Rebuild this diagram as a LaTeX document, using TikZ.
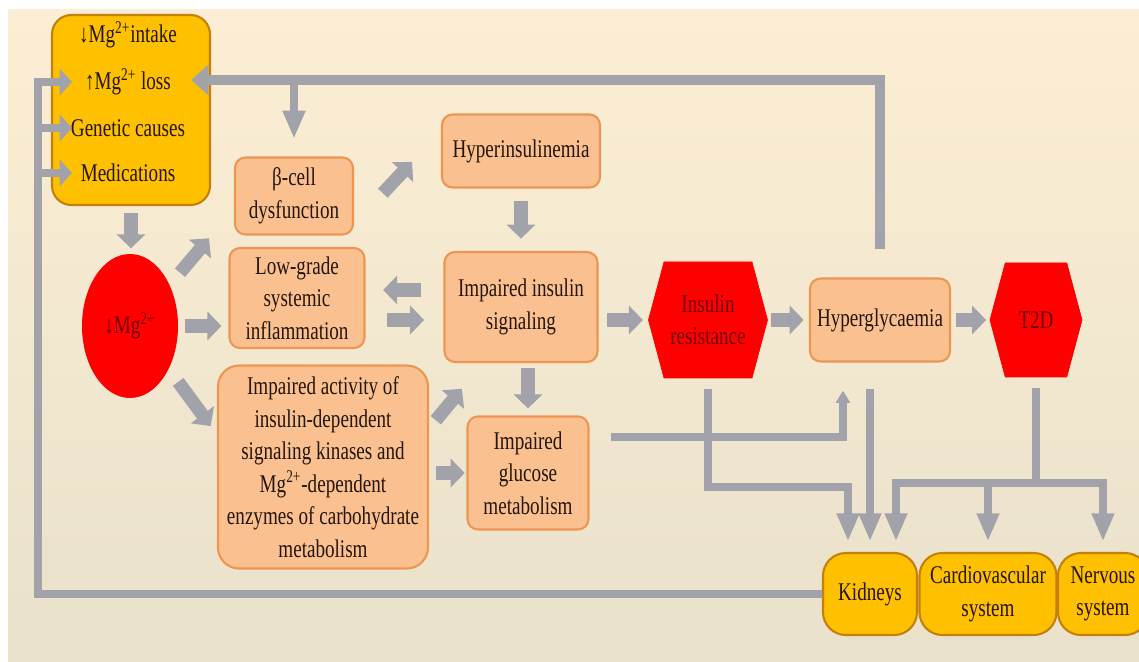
\documentclass[tikz,border=0pt]{standalone}
\usepackage{fontspec}
\setmainfont{Liberation Serif}[FakeStretch=0.75]
\usepackage{tikz}
\usetikzlibrary{shapes.geometric, shapes.symbols, arrows.meta, positioning, calc}
\definecolor{peachfill}{RGB}{251,192,144}
\definecolor{peachedge}{RGB}{236,150,82}
\definecolor{goldfill}{RGB}{255,192,0}
\definecolor{goldedge}{RGB}{196,128,10}
\definecolor{hexred}{RGB}{255,0,0}
\definecolor{hexink}{RGB}{112,0,0}
\definecolor{inkbrown}{RGB}{35,22,12}
\definecolor{lnkgray}{RGB}{162,162,170}
\definecolor{bgtop}{RGB}{252,238,212}
\definecolor{bgbottom}{RGB}{233,225,203}
\newcommand{\boxfont}{\fontsize{14.5}{18.5}\selectfont}
\tikzset{
  peachbox/.style={rectangle, draw=peachedge, fill=peachfill, align=center,
    rounded corners=6pt, line width=1.2pt, text=inkbrown, font=\boxfont, inner sep=2pt},
  goldbox/.style={rectangle, draw=goldedge, fill=goldfill, align=center,
    rounded corners=11pt, line width=1.2pt, text=inkbrown, font=\boxfont},
  organ/.style={goldbox, rounded corners=13pt, minimum height=1.64cm, inner sep=1pt},
  cause/.style={text=inkbrown, font=\boxfont, inner sep=1pt},
  hexnode/.style={signal, signal to=east and west, signal pointer angle=150,
    fill=hexred, draw=hexred, align=center, text=hexink, font=\boxfont},
  blockarrow/.style={-{Triangle[width=16pt,length=8pt]}, line width=7.5pt, color=lnkgray},
  link/.style={line width=4.5pt, color=lnkgray},
  linkarrow/.style={link, -{Triangle[width=12pt,length=16pt]}},
  smallarrow/.style={link, -{Triangle[width=8pt,length=7pt]}},
  sidearrow/.style={line width=4pt, color=lnkgray, -{Triangle[width=15pt,length=7pt]}},
  toparrow/.style={line width=5.5pt, color=lnkgray, -{Triangle[width=17pt,length=10pt]}}
}
\begin{document}
\begin{tikzpicture}
  % Canvas
  \useasboundingbox (0,0) rectangle (22.78,13.22);
  \fill[white] (0,0) rectangle (22.78,13.22);
  \shade[top color=bgtop, bottom color=bgbottom] (0.16,0) rectangle (22.78,13.02);

  % Causes of the deficiency
  \node[goldbox, minimum width=3.16cm, minimum height=3.8cm] (causes) at (2.62, 11.02) {};
  \node[cause] (intake) at (2.56, 12.52) {↓Mg\textsuperscript{2+}intake};
  \node[cause] (loss) at (2.56, 11.58) {↑Mg\textsuperscript{2+} loss};
  \node[cause] (genetic) at (2.56, 10.66) {Genetic causes};
  \node[cause] (meds) at (2.56, 9.76) {Medications};

  % Low magnesium and its effects
  \node[ellipse, fill=hexred, minimum width=1.92cm, minimum height=2.88cm, text=hexink, font=\boxfont] (mg) at (2.6, 6.7) {↓Mg\textsuperscript{2+}};
  \node[peachbox, minimum width=2.36cm, minimum height=1.54cm] (beta) at (5.88, 9.3) {β-cell\\dysfunction};
  \node[peachbox, minimum width=2.7cm, minimum height=2.0cm] (inflam) at (5.94, 7.26) {Low-grade\\systemic\\inflammation};
  \node[peachbox, minimum width=4.2cm, minimum height=4.06cm, rounded corners=12pt] (activity) at (6.46, 3.88) {Impaired activity of\\insulin-dependent\\signaling kinases and\\Mg\textsuperscript{2+}-dependent\\enzymes of carbohydrate\\metabolism};
  \node[peachbox, minimum width=3.16cm, minimum height=1.46cm] (hyperins) at (10.42, 10.2) {Hyperinsulinemia};
  \node[peachbox, minimum width=3.06cm, minimum height=2.2cm] (insig) at (10.42, 7.08) {Impaired insulin\\signaling};
  \node[peachbox, minimum width=2.42cm, minimum height=2.26cm] (glucose) at (10.56, 3.76) {Impaired\\glucose\\metabolism};
  \node[hexnode, minimum width=2.38cm, minimum height=2.32cm] (insres) at (14.16, 6.82) {Insulin\\resistance};
  \node[peachbox, minimum width=2.8cm, minimum height=1.66cm] (hyperg) at (17.6, 6.82) {Hyperglycaemia};
  \node[hexnode, minimum width=1.84cm, minimum height=2.28cm] (tdd) at (20.72, 6.82) {T2D};

  % Target organs
  \node[organ, minimum width=1.88cm] (kidneys) at (17.4, 1.34) {Kidneys};
  \node[organ, minimum width=2.74cm] (cardio) at (19.76, 1.34) {Cardiovascular\\system};
  \node[organ, minimum width=1.8cm] (nervous) at (22.06, 1.34) {Nervous\\system};

  % Bends of the long lines
  \coordinate (joinIR) at (16.96, 3.48);
  \coordinate (joinT2D) at (20.72, 3.56);
  \coordinate (topBend) at (17.6, 11.62);
  \coordinate (backTop) at (0.76, 11.58);
  \coordinate (causesIn) at (1.44, 11.58);

  % Short block arrows
  \draw[blockarrow, shorten <=4pt, shorten >=3pt] (causes.south) -- (causes.south |- mg.north);
  \draw[blockarrow, shorten <=9pt, shorten >=22pt] (mg.46) -- (beta.192);
  \draw[blockarrow, shorten <=4pt, shorten >=4pt] (mg.east) -- (mg.east -| inflam.west);
  \draw[blockarrow, shorten <=9pt, shorten >=6pt] (mg.312) -- (activity.163);
  \draw[blockarrow, shorten <=24pt, shorten >=24pt] (beta.335) -- (hyperins.166);
  \draw[blockarrow, shorten <=7pt, shorten >=7pt] (hyperins.south) -- (insig.north);
  \draw[blockarrow, shorten <=13pt, shorten >=10pt] ([yshift=0.34cm]insig.west) -- ([yshift=0.34cm]insig.west -| inflam.east);
  \draw[blockarrow, shorten <=12pt, shorten >=11pt] ([yshift=-0.26cm]insig.west -| inflam.east) -- ([yshift=-0.26cm]insig.west);
  \draw[blockarrow, shorten <=6pt, shorten >=19pt] (activity.20) -- (insig.236);
  \draw[blockarrow, shorten <=3pt, shorten >=4pt] (glucose.north |- insig.south) -- (glucose.north);
  \draw[blockarrow, shorten <=4pt, shorten >=1pt] (activity.east |- glucose.west) -- (glucose.west);
  \draw[blockarrow, shorten <=5pt, shorten >=3pt] (insig.east |- insres.west) -- (insres.west);
  \draw[blockarrow, shorten <=2pt, shorten >=3pt] (insres.east) -- (hyperg.west);
  \draw[blockarrow, shorten <=3pt, shorten >=2pt] (hyperg.east) -- (tdd.west);

  % Lines to the organs
  \draw[smallarrow, shorten <=12pt, shorten >=16pt] ([yshift=0.72cm]glucose.east) -| ([xshift=-0.74cm]hyperg.south);
  \draw[linkarrow, shorten <=6pt, shorten >=6pt] (insres.south) |- (joinIR) -- (joinIR |- kidneys.north);
  \draw[linkarrow, shorten <=15pt, shorten >=6pt] (hyperg.south -| kidneys.north) -- (kidneys.north);
  \draw[link, shorten <=6pt] (tdd.south) -- (joinT2D);
  \draw[linkarrow, shorten >=6pt] (joinT2D) -| ([xshift=0.52cm]kidneys.north);
  \draw[linkarrow, shorten >=6pt] (joinT2D) -| (cardio.north);
  \draw[linkarrow, shorten >=6pt] (joinT2D) -| (nervous.north);

  % Feedback lines
  \draw[sidearrow] (kidneys.west) -| (backTop) -- (causesIn);
  \foreach \cause in {genetic, meds}
    \draw[sidearrow] (backTop |- \cause) -- (causesIn |- \cause);
  \draw[toparrow, shorten <=16pt] (hyperg.north) -- (topBend) -- ([xshift=-0.4cm]causes.east |- topBend);
  \draw[linkarrow, shorten >=10pt] (beta.north |- topBend) -- (beta.north);
\end{tikzpicture}
\end{document}
